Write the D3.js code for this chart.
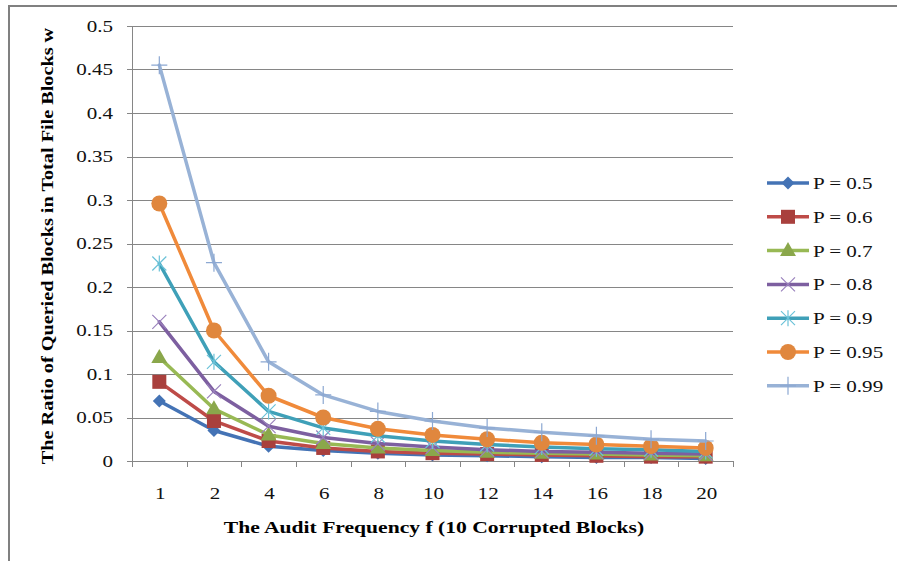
<!DOCTYPE html>
<html>
<head>
<meta charset="utf-8">
<script src="https://cdn.jsdelivr.net/npm/d3@7"></script>
<style>
  body { margin: 0; background: #fff; }
  svg { display: block; font-family: "Liberation Serif", "Times New Roman", serif; }
</style>
</head>
<body>
<svg id="chart" width="897" height="561"></svg>
<script>
// categories on the x axis (audit frequency f)
var categories = ["1", "2", "4", "6", "8", "10", "12", "14", "16", "18", "20"];

// ratio of queried blocks w, one list per detection probability P
var p50 = [0.069, 0.035, 0.017, 0.012, 0.009, 0.007, 0.006, 0.005, 0.004, 0.004, 0.003];
var p60 = [0.091, 0.046, 0.023, 0.015, 0.011, 0.009, 0.008, 0.007, 0.006, 0.005, 0.005];
var p70 = [0.119, 0.060, 0.030, 0.020, 0.015, 0.012, 0.010, 0.009, 0.008, 0.007, 0.006];
var p80 = [0.160, 0.080, 0.040, 0.027, 0.020, 0.016, 0.013, 0.011, 0.010, 0.009, 0.008];
var p90 = [0.227, 0.114, 0.057, 0.038, 0.029, 0.023, 0.019, 0.016, 0.014, 0.013, 0.011];
var p95 = [0.296, 0.150, 0.075, 0.050, 0.037, 0.030, 0.025, 0.021, 0.019, 0.017, 0.015];
var p99 = [0.455, 0.228, 0.114, 0.076, 0.057, 0.046, 0.038, 0.033, 0.029, 0.025, 0.023];

var seriesNames = ["P = 0.5", "P = 0.6", "P = 0.7", "P \u2212 0.8", "P = 0.9", "P = 0.95", "P = 0.99"];
var seriesValues = [p50, p60, p70, p80, p90, p95, p99];
var yTicks = [0, 0.05, 0.1, 0.15, 0.2, 0.25, 0.3, 0.35, 0.4, 0.45, 0.5];

var styles = [
  {line: "#4473B5", marker: "diamond", fill: "#4473B5"},
  {line: "#BE4B48", marker: "square", fill: "#A9403D"},
  {line: "#98B954", marker: "triangle", fill: "#8AA74B"},
  {line: "#7D5FA0", marker: "cross", fill: "#9A82BD"},
  {line: "#3FA0B8", marker: "star", fill: "#6BC2D8"},
  {line: "#F08A3A", marker: "circle", fill: "#E0873E"},
  {line: "#98B2D6", marker: "plus", fill: "#8CA8D2"}
];

// text in the reference is drawn wider than normal Times
var stretch = 1.24;

var svg = d3.select("#chart");

// outer frame
svg.append("path")
  .attr("d", "M9,561 V6 H897")
  .attr("fill", "none")
  .attr("stroke", "#808080")
  .attr("stroke-width", 2);

var plotLeft = 132, plotRight = 733, plotTop = 26, plotBottom = 461;

var x = d3.scaleBand().domain(categories).range([plotLeft, plotRight]);
var y = d3.scaleLinear().domain([0, 0.5]).range([plotBottom, plotTop]);

// gridlines
svg.append("g")
  .selectAll("line")
  .data(yTicks)
  .enter().append("line")
  .attr("x1", plotLeft - 5)
  .attr("x2", plotRight)
  .attr("y1", function(d) { return Math.round(y(d)) + 0.5; })
  .attr("y2", function(d) { return Math.round(y(d)) + 0.5; })
  .attr("stroke", "#868686")
  .attr("stroke-width", 1);

// y axis line
svg.append("line")
  .attr("x1", plotLeft + 0.5).attr("x2", plotLeft + 0.5)
  .attr("y1", plotTop).attr("y2", plotBottom)
  .attr("stroke", "#868686");

// y tick labels
svg.append("g")
  .selectAll("text")
  .data(yTicks)
  .enter().append("text")
  .attr("transform", function(d) { return "translate(113," + y(d) + ") scale(" + stretch + ",1)"; })
  .attr("dy", "0.35em")
  .attr("text-anchor", "end")
  .attr("font-size", 17)
  .attr("fill", "#111")
  .text(function(d) { return String(+d.toFixed(2)); });

// x axis ticks at category boundaries
var bounds = categories.map(function(c) { return x(c); }).concat([plotRight]);
svg.append("g")
  .selectAll("line")
  .data(bounds)
  .enter().append("line")
  .attr("x1", function(d) { return Math.round(d) + 0.5; })
  .attr("x2", function(d) { return Math.round(d) + 0.5; })
  .attr("y1", plotBottom)
  .attr("y2", plotBottom + 6)
  .attr("stroke", "#868686");

svg.append("g")
  .selectAll("text")
  .data(categories)
  .enter().append("text")
  .attr("transform", function(d) { return "translate(" + (x(d) + x.bandwidth() / 2 + 1) + ",499) scale(" + stretch + ",1)"; })
  .attr("text-anchor", "middle")
  .attr("font-size", 17)
  .attr("fill", "#111")
  .text(function(d) { return d; });

// axis titles
svg.append("text")
  .attr("transform", "translate(434,533) scale(1.27,1)")
  .attr("text-anchor", "middle")
  .attr("font-size", 17)
  .attr("font-weight", "bold")
  .text("The Audit Frequency f (10 Corrupted Blocks)");

svg.append("text")
  .attr("transform", "translate(53,246) rotate(-90) scale(1.19,1)")
  .attr("text-anchor", "middle")
  .attr("font-size", 17)
  .attr("font-weight", "bold")
  .text("The Ratio of Queried Blocks in Total File Blocks w");

function drawMarker(g, kind, cx, cy, color) {
  if (kind === "diamond") {
    g.append("path").attr("d", "M" + cx + "," + (cy - 6.5) + " L" + (cx + 6.5) + "," + cy + " L" + cx + "," + (cy + 6.5) + " L" + (cx - 6.5) + "," + cy + "Z")
      .attr("fill", color);
  } else if (kind === "square") {
    g.append("rect").attr("x", cx - 7).attr("y", cy - 7).attr("width", 14).attr("height", 14)
      .attr("fill", color);
  } else if (kind === "triangle") {
    g.append("path").attr("d", "M" + cx + "," + (cy - 8.5) + " L" + (cx + 8) + "," + (cy + 5.5) + " L" + (cx - 8) + "," + (cy + 5.5) + "Z")
      .attr("fill", color);
  } else if (kind === "circle") {
    g.append("circle").attr("cx", cx).attr("cy", cy).attr("r", 8).attr("fill", color);
  } else if (kind === "cross") {
    g.append("path").attr("d", "M" + (cx - 7) + "," + (cy - 7) + " L" + (cx + 7) + "," + (cy + 7) + " M" + (cx + 7) + "," + (cy - 7) + " L" + (cx - 7) + "," + (cy + 7))
      .attr("stroke", color).attr("stroke-width", 1.2).attr("fill", "none");
  } else if (kind === "star") {
    g.append("path").attr("d", "M" + (cx - 7) + "," + (cy - 7) + " L" + (cx + 7) + "," + (cy + 7) + " M" + (cx + 7) + "," + (cy - 7) + " L" + (cx - 7) + "," + (cy + 7) + " M" + cx + "," + (cy - 8) + " L" + cx + "," + (cy + 8))
      .attr("stroke", color).attr("stroke-width", 1.2).attr("fill", "none");
  } else if (kind === "plus") {
    g.append("path").attr("d", "M" + (cx - 8) + "," + cy + " L" + (cx + 8) + "," + cy + " M" + cx + "," + (cy - 9) + " L" + cx + "," + (cy + 9))
      .attr("stroke", color).attr("stroke-width", 1.2).attr("fill", "none");
  }
}

var line = d3.line()
  .x(function(d, i) { return x(categories[i]) + x.bandwidth() / 2; })
  .y(function(d) { return y(d); });

seriesValues.forEach(function(vals, s) {
  var g = svg.append("g");
  g.append("path")
    .datum(vals)
    .attr("fill", "none")
    .attr("stroke", styles[s].line)
    .attr("stroke-width", 3.5)
    .attr("stroke-linejoin", "round")
    .attr("stroke-linecap", "round")
    .attr("d", line);
  vals.forEach(function(v, i) {
    drawMarker(g, styles[s].marker, x(categories[i]) + x.bandwidth() / 2, y(v), styles[s].fill);
  });
});

// legend
var legend = svg.append("g");
seriesNames.forEach(function(name, s) {
  var ly = 183 + s * 33.8;
  legend.append("line")
    .attr("x1", 767).attr("x2", 809)
    .attr("y1", ly).attr("y2", ly)
    .attr("stroke", styles[s].line)
    .attr("stroke-width", 3.5);
  drawMarker(legend, styles[s].marker, 788, ly, styles[s].fill);
  legend.append("text")
    .attr("transform", "translate(813," + ly + ") scale(" + stretch + ",1)")
    .attr("dy", "0.35em")
    .attr("font-size", 17)
    .attr("fill", "#111")
    .text(name);
});
</script>
</body>
</html>
